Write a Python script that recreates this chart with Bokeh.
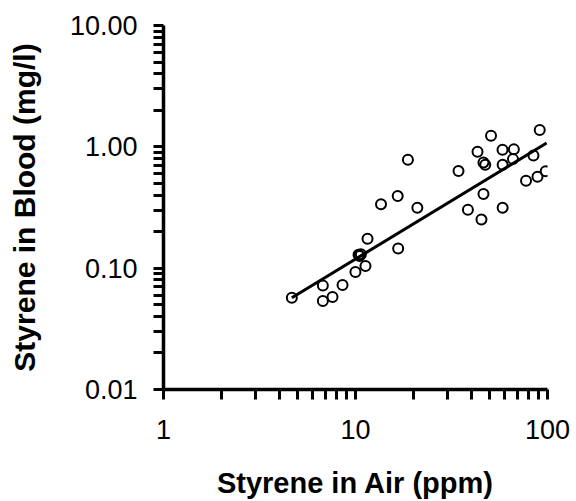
from bokeh.plotting import figure
from bokeh.models import Range1d, FixedTicker, CustomJSTickFormatter, ColumnDataSource
from bokeh.embed import file_html
from bokeh.resources import INLINE

# Data
air_ppm = [4.66, 6.76, 6.76, 7.59, 8.56, 9.99, 11.27, 10.37, 10.67, 10.5, 11.55,
           13.58, 16.59, 16.68, 18.75, 21.0, 34.4, 38.5, 43.2, 46.4, 47.4, 50.8,
           46.4, 45.3, 58.3, 58.4, 58.4, 66.8, 66.1, 84.5, 91.1, 77.3, 88.7, 97.9]
blood_mgl = [0.0571, 0.0718, 0.0537, 0.0579, 0.0725, 0.0929, 0.104, 0.129, 0.130, 0.126, 0.175,
             0.337, 0.393, 0.145, 0.783, 0.315, 0.631, 0.303, 0.912, 0.743, 0.711, 1.235,
             0.409, 0.252, 0.946, 0.711, 0.315, 0.953, 0.792, 0.849, 1.377, 0.525, 0.566, 0.630]

fit_x = [4.66, 99.0]
fit_y = [0.0571, 1.074]

# tick positions (decades are labelled, the rest are unlabelled minor marks)
x_ticks = [1, 2, 3, 4, 5, 6, 7, 8, 9, 10, 20, 30, 40, 50, 60, 70, 80, 90, 100]
y_ticks = [0.01, 0.02, 0.03, 0.04, 0.05, 0.06, 0.07, 0.08, 0.09,
           0.1, 0.2, 0.3, 0.4, 0.5, 0.6, 0.7, 0.8, 0.9,
           1, 2, 3, 4, 5, 6, 7, 8, 9, 10]

FONT = "Liberation Sans"

p = figure(width=576, height=501, x_axis_type="log", y_axis_type="log",
           x_range=Range1d(1, 100), y_range=Range1d(0.01, 10),
           output_backend="svg", toolbar_location=None,
           min_border_left=163, min_border_right=29,
           min_border_top=25, min_border_bottom=112)
p.outline_line_color = None
p.xgrid.visible = False
p.ygrid.visible = False
p.background_fill_color = "white"
p.border_fill_color = "white"

p.xaxis.ticker = FixedTicker(ticks=x_ticks)
p.yaxis.ticker = FixedTicker(ticks=y_ticks)
p.xaxis.formatter = CustomJSTickFormatter(code="""
const l = Math.log10(tick);
return Math.abs(l - Math.round(l)) < 1e-6 ? tick.toFixed(0) : "";
""")
p.yaxis.formatter = CustomJSTickFormatter(code="""
const l = Math.log10(tick);
return Math.abs(l - Math.round(l)) < 1e-6 ? tick.toFixed(2) : "";
""")

for ax in (p.xaxis[0], p.yaxis[0]):
    ax.axis_line_width = 3.5
    ax.axis_line_color = "black"
    ax.major_tick_line_width = 3
    ax.major_tick_line_color = "black"
    ax.minor_tick_line_color = None
    ax.major_tick_in = 0
    ax.major_tick_out = 10
    ax.major_label_text_font = FONT
    ax.major_label_text_font_size = "27px"
    ax.major_label_text_color = "black"
    ax.axis_label_text_font = FONT
    ax.axis_label_text_font_style = "bold"
    ax.axis_label_text_color = "black"

p.xaxis.axis_label = "Styrene in Air (ppm)"
p.yaxis.axis_label = "Styrene in Blood (mg/l)"
p.xaxis.axis_label_text_font_size = "29px"
p.yaxis.axis_label_text_font_size = "30px"
p.xaxis.major_label_standoff = 20
p.yaxis.major_label_standoff = 16
p.xaxis.axis_label_standoff = 25
p.yaxis.axis_label_standoff = 26

src = ColumnDataSource(data=dict(x=air_ppm, y=blood_mgl))
p.line(fit_x, fit_y, line_color="black", line_width=3)
p.scatter("x", "y", source=src, marker="circle", size=10,
          fill_color=None, line_color="black", line_width=2)

open("out.html", "w").write(file_html(p, INLINE))
